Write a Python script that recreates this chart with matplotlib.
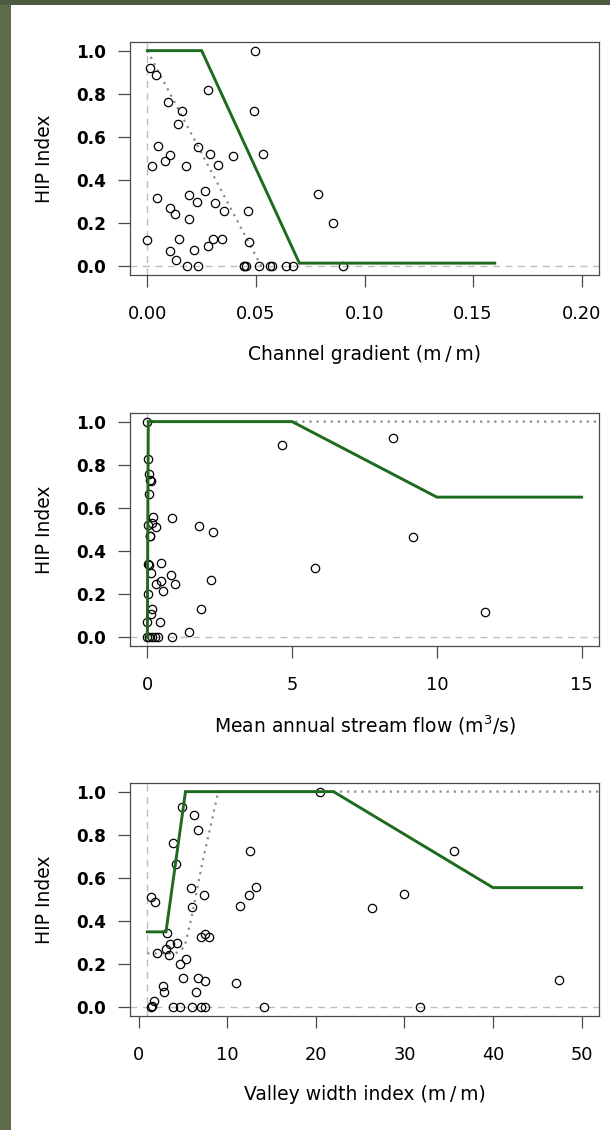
import matplotlib
matplotlib.use("Agg")
import matplotlib.pyplot as plt
from matplotlib.patches import Rectangle

# ---------------- data ----------------
# Panel 1: channel gradient
grad_x = [0.000, 0.001, 0.004, 0.0023, 0.005, 0.0045, 0.0093, 0.0079, 0.0106, 0.0104,
          0.0127, 0.0104, 0.0133, 0.0144, 0.0142, 0.016, 0.0178, 0.0192, 0.0192, 0.0181,
          0.0214, 0.023, 0.0233, 0.0232, 0.0264, 0.028, 0.028, 0.0287, 0.0302, 0.0312,
          0.0325, 0.0346, 0.0355, 0.0393, 0.0443, 0.0447, 0.0452, 0.0465, 0.047, 0.0496,
          0.0492, 0.0531, 0.0512, 0.0564, 0.0573, 0.0637, 0.0671, 0.0786, 0.0856, 0.090]
grad_y = [0.123, 0.918, 0.886, 0.466, 0.558, 0.318, 0.762, 0.488, 0.514, 0.269,
          0.245, 0.069, 0.031, 0.129, 0.662, 0.722, 0.463, 0.331, 0.220, 0.0,
          0.075, 0.298, 0.0, 0.554, 0.348, 0.818, 0.095, 0.520, 0.129, 0.292,
          0.471, 0.129, 0.255, 0.512, 0.0, 0.0, 0.0, 0.255, 0.112, 1.0,
          0.722, 0.522, 0.0, 0.0, 0.0, 0.0, 0.0, 0.335, 0.203, 0.0]
grad_curve_x = [0.0, 0.025, 0.070, 0.160]
grad_curve_y = [1.0, 1.0, 0.015, 0.015]
grad_ref_x = [0.0, 0.0525]
grad_ref_y = [1.0, 0.0]
grad_ticks = [0.00, 0.05, 0.10, 0.15, 0.20]
grad_ticklabels = ["0.00", "0.05", "0.10", "0.15", "0.20"]

# Panel 2: mean annual stream flow
flow_x = [0.0, 0.03, 0.07, 0.10, 0.13, 0.07, 0.20, 0.03, 0.16, 0.30, 0.08, 0.10,
          0.03, 0.07, 0.12, 0.48, 0.30, 0.48, 0.54, 0.03, 0.80, 0.95, 0.84, 0.15,
          0.14, 0.0, 0.43, 0.0, 0.07, 0.16, 0.27, 0.35, 0.84, 1.43, 1.78, 2.27,
          2.19, 1.84, 4.64, 5.79, 8.50, 9.17, 11.65]
flow_y = [1.0, 0.825, 0.759, 0.728, 0.725, 0.665, 0.560, 0.522, 0.529, 0.513, 0.468, 0.470,
          0.340, 0.335, 0.298, 0.343, 0.247, 0.260, 0.215, 0.200, 0.290, 0.246, 0.552, 0.130,
          0.108, 0.070, 0.070, 0.0, 0.0, 0.0, 0.0, 0.0, 0.0, 0.023, 0.518, 0.490,
          0.266, 0.130, 0.890, 0.320, 0.923, 0.464, 0.119]
flow_curve_x = [0.0, 0.03, 5.0, 10.0, 15.0]
flow_curve_y = [0.0, 1.0, 1.0, 0.65, 0.65]
flow_ref_x = [0.0, 0.03, 20.0]
flow_ref_y = [0.0, 1.0, 1.0]
flow_ticks = [0, 5, 10, 15]
flow_ticklabels = ["0", "5", "10", "15"]

# Panel 3: valley width index
vwi_x = [20.5, 4.9, 6.3, 6.75, 3.9, 4.2, 12.6, 35.6, 13.25, 12.45, 11.4, 5.9, 6.05, 7.4,
         1.36, 1.84, 3.16, 7.1, 7.5, 7.9, 26.4, 30.0, 2.06, 3.1, 3.4, 3.5, 4.3, 4.65,
         5.35, 2.76, 2.9, 5.0, 6.7, 7.5, 6.45, 11.0, 47.4, 1.36, 1.5, 1.8, 3.9, 4.7,
         6.0, 7.06, 7.5, 14.2, 31.8]
vwi_y = [1.0, 0.928, 0.892, 0.820, 0.760, 0.666, 0.723, 0.723, 0.558, 0.520, 0.471, 0.552,
         0.466, 0.520, 0.510, 0.489, 0.343, 0.325, 0.338, 0.328, 0.460, 0.526, 0.254, 0.270,
         0.243, 0.294, 0.298, 0.203, 0.222, 0.097, 0.069, 0.134, 0.134, 0.122, 0.072, 0.112,
         0.128, 0.0, 0.005, 0.030, 0.0, 0.0, 0.0, 0.0, 0.0, 0.0, 0.0]
vwi_curve_x = [1.0, 3.1, 5.3, 22.0, 40.0, 50.0]
vwi_curve_y = [0.35, 0.35, 1.0, 1.0, 0.555, 0.555]
vwi_ref_x = [1.0, 4.2, 5.2, 6.0, 7.2, 9.0, 60.0]
vwi_ref_y = [0.25, 0.25, 0.28, 0.42, 0.67, 1.0, 1.0]
vwi_ticks = [0, 10, 20, 30, 40, 50]
vwi_ticklabels = ["0", "10", "20", "30", "40", "50"]

y_ticks = [0.0, 0.2, 0.4, 0.6, 0.8, 1.0]
y_ticklabels = ["0.0", "0.2", "0.4", "0.6", "0.8", "1.0"]
y_label = "HIP Index"

xlabels = ["Channel gradient (m\u2009/\u2009m)",
           r"Mean annual stream flow (m$^{3}$/s)",
           "Valley width index (m\u2009/\u2009m)"]

# ---------------- figure ----------------
W, H = 610, 1130
fig = plt.figure(figsize=(W / 100, H / 100), dpi=100)
fig.patch.set_facecolor("white")
plt.rcParams["font.family"] = ["DejaVu Sans"]

# slide border
fig.patches.append(Rectangle((0, 0), 11 / W, 1, transform=fig.transFigure,
                             facecolor="#5c6c4c", edgecolor="none", zorder=0))
fig.patches.append(Rectangle((0, 1 - 5 / H), 1, 5 / H, transform=fig.transFigure,
                             facecolor="#4c5a42", edgecolor="none", zorder=0))

ax_left = 130 / W
ax_w = (599 - 130) / W
ax_h = 233 / H
bottoms = [(H - 275) / H, (H - 646) / H, (H - 1016) / H]

panels = [
    (grad_x, grad_y, grad_curve_x, grad_curve_y, grad_ref_x, grad_ref_y,
     grad_ticks, grad_ticklabels, (-0.008, 0.208), 0.0),
    (flow_x, flow_y, flow_curve_x, flow_curve_y, flow_ref_x, flow_ref_y,
     flow_ticks, flow_ticklabels, (-0.6, 15.6), 0.0),
    (vwi_x, vwi_y, vwi_curve_x, vwi_curve_y, vwi_ref_x, vwi_ref_y,
     vwi_ticks, vwi_ticklabels, (-0.96, 51.96), 1.0),
]

frame_col = "#4a4a4a"
for i, (px, py, cx, cy, rx, ry, xt, xtl, xlim, vline) in enumerate(panels):
    ax = fig.add_axes([ax_left, bottoms[i], ax_w, ax_h])
    ax.set_xlim(*xlim)
    ax.set_ylim(-0.04, 1.04)

    ax.axhline(0.0, color="#bdbdbd", lw=1.0, ls=(0, (5, 4)), zorder=1)
    ax.axvline(vline, color="#bdbdbd", lw=1.0, ls=(0, (5, 4)), zorder=1)
    ax.plot(rx, ry, color="#8c8c8c", lw=1.6, ls=(0, (1, 2.2)), zorder=2)
    ax.plot(px, py, ls="none", marker="o", ms=6.0, mfc="none", mec="black",
            mew=0.9, zorder=3)
    ax.plot(cx, cy, color="#1e6b1e", lw=2.1, zorder=4, solid_joinstyle="miter")

    ax.set_xticks(xt)
    ax.set_xticklabels(xtl, fontsize=12.8)
    ax.set_yticks(y_ticks)
    ax.set_yticklabels(y_ticklabels, fontsize=12.2, fontweight="bold")
    ax.tick_params(axis="x", length=8.6, width=0.9, color=frame_col, pad=13.0)
    ax.tick_params(axis="y", length=9.0, width=0.9, color=frame_col, pad=8.0)
    for s in ax.spines.values():
        s.set_color(frame_col)
        s.set_linewidth(0.9)

    ax.set_xlabel(xlabels[i], fontsize=13.5, va="center")
    ax.xaxis.set_label_coords(0.5, -79 / 233)
    ax.set_ylabel(y_label, fontsize=13.5, va="center")
    ax.yaxis.set_label_coords((44 - 130) / 469, 0.5)

fig.savefig("out.png", dpi=100, facecolor="white")
